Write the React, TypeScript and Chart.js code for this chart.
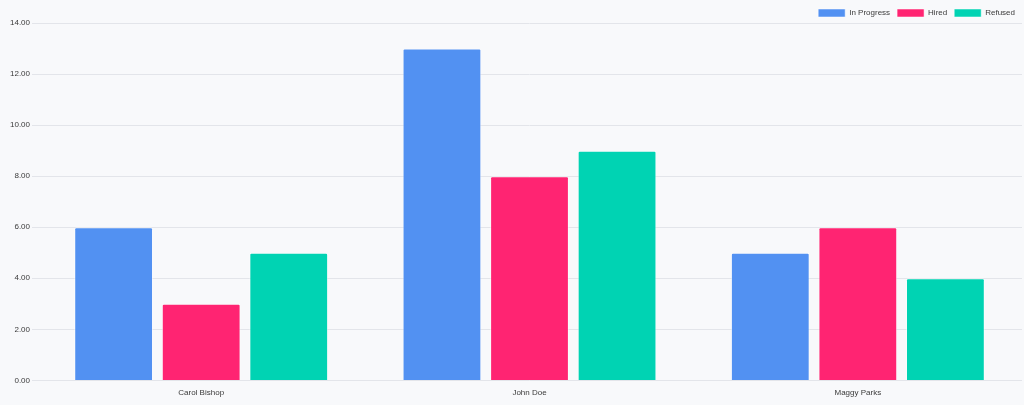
import React, { useEffect, useRef } from 'react';
import { Chart, registerables } from 'chart.js';

Chart.register(...registerables);

const candidates = ['Carol Bishop', 'John Doe', 'Maggy Parks'];
const inProgress = [6, 13, 5];
const hired = [3, 8, 6];
const refused = [5, 9, 4];

const FONT = "'Liberation Sans', Arial, sans-serif";

// pull the plot up closer to the legend
const legendTrim = {
  id: 'legendTrim',
  beforeInit: (chart: any) => {
    const legend = chart.legend;
    if (!legend) return;
    const fit = legend.fit;
    legend.fit = function () {
      fit.call(this);
      this.height -= 4;
    };
  },
};

const App: React.FC = () => {
  const canvasRef = useRef<HTMLCanvasElement>(null);

  useEffect(() => {
    document.body.style.margin = '0';
    if (!canvasRef.current) return;
    const chart = new Chart(canvasRef.current, {
      type: 'bar',
      data: {
        labels: candidates,
        datasets: [
          { label: 'In Progress', data: inProgress, backgroundColor: '#5291f2', borderColor: 'rgba(255,255,255,0.5)', borderWidth: 1, borderRadius: 2 },
          { label: 'Hired', data: hired, backgroundColor: '#ff2472', borderColor: 'rgba(255,255,255,0.5)', borderWidth: 1, borderRadius: 2 },
          { label: 'Refused', data: refused, backgroundColor: '#00d3b3', borderColor: 'rgba(255,255,255,0.5)', borderWidth: 1, borderRadius: 2 },
        ],
      },
      options: {
        animation: false,
        responsive: true,
        maintainAspectRatio: false,
        layout: { padding: { left: 8, right: 2, top: 2, bottom: 7 } },
        plugins: {
          legend: {
            position: 'top',
            align: 'end',
            labels: { boxWidth: 27, boxHeight: 8, font: { size: 8, family: FONT }, color: '#3a3a3a', padding: 7 },
          },
          tooltip: { enabled: false },
        },
        scales: {
          x: {
            grid: { display: false },
            border: { display: false },
            ticks: { padding: 0, font: { size: 8, family: FONT }, color: '#3a3a3a' },
          },
          y: {
            min: 0,
            max: 14,
            border: { display: false },
            grid: { color: '#e3e5ea', tickLength: 5 },
            ticks: {
              stepSize: 2,
              padding: 2,
              font: { size: 8, family: FONT },
              color: '#3a3a3a',
              callback: (v: any) => Number(v).toFixed(2),
            },
          },
        },
      },
      plugins: [legendTrim],
    });
    return () => chart.destroy();
  }, []);

  return (
    <div style={{ width: 1024, height: 405, background: '#f8f9fb', position: 'relative' }}>
      <canvas ref={canvasRef}></canvas>
    </div>
  );
};

export default App;
